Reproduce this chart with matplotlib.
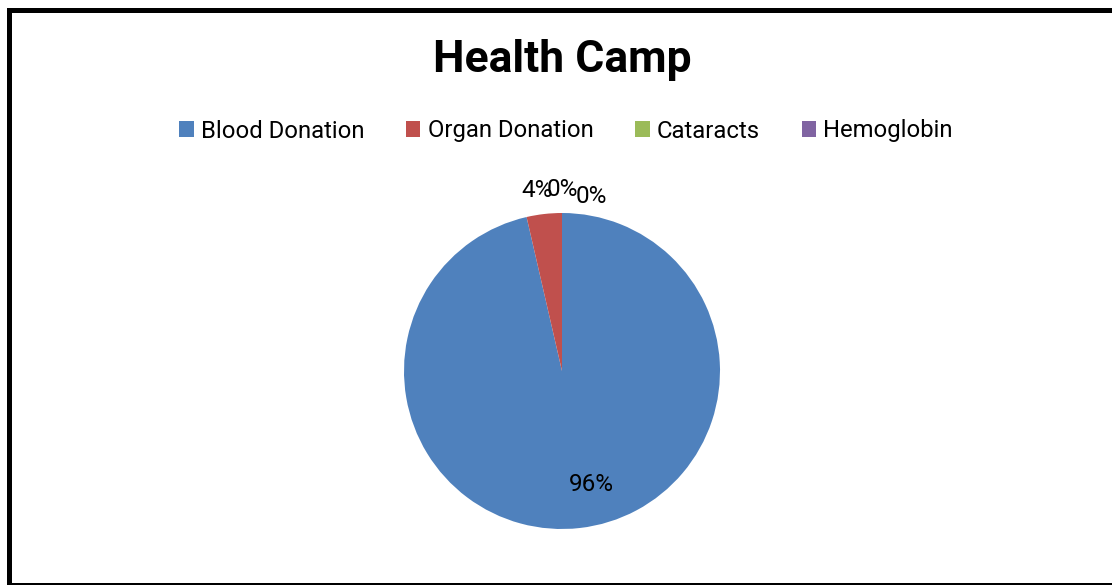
import numpy as np
import matplotlib
matplotlib.use('Agg')
import matplotlib.pyplot as plt
from matplotlib.lines import Line2D
from matplotlib.patches import Patch

categories = ['Blood Donation', 'Organ Donation', 'Cataracts', 'Hemoglobin']
values = [96.4, 3.6, 0, 0]
colors = ['#4F81BD', '#C0504D', '#9BBB59', '#8064A2']

# label placement (radius factor, extra offset in points) - like Excel best fit
label_r = [0.72, 1.15, 1.15, 1.15]
label_off = [(12, 0), (-3, 0), (0, 0), (21, -5)]

plt.rcParams['font.family'] = ['Roboto', 'DejaVu Sans']

fig = plt.figure(figsize=(11.12, 5.85), dpi=100)
ax = fig.add_axes([404 / 1112, 56 / 585, 316 / 1112, 316 / 585])

wedges, _ = ax.pie(values, colors=colors, startangle=90, counterclock=False,
                   radius=1.0, wedgeprops=dict(linewidth=0))
ax.set_xlim(-1, 1)
ax.set_ylim(-1, 1)
ax.set_aspect('equal')

total = sum(values)
for w, v, r, off in zip(wedges, values, label_r, label_off):
    mid = np.deg2rad((w.theta1 + w.theta2) / 2)
    ax.annotate(f'{v / total * 100:.0f}%', (r * np.cos(mid), r * np.sin(mid)),
                xytext=off, textcoords='offset points',
                ha='center', va='center', fontsize=17.5, color='black',
                annotation_clip=False)

fig.text(562 / 1112, 1 - 60 / 585, 'Health Camp', ha='center', va='center',
         fontsize=32, fontweight='bold')

handles = [Patch(facecolor=c, edgecolor='none') for c in colors]
fig.legend(handles, categories, ncol=4, loc='center',
           bbox_to_anchor=(566 / 1112, 1 - 131 / 585), frameon=False,
           fontsize=17.2, handlelength=0.6, handleheight=0.6,
           handletextpad=0.3, columnspacing=1.75)

# outer chart border (right side cut off in the original)
lw = 3.6
fig.add_artist(Line2D([8.5 / 1112, 1], [1 - 10 / 585, 1 - 10 / 585], color='black', lw=lw))
fig.add_artist(Line2D([8.5 / 1112, 8.5 / 1112], [1 - 10 / 585, 0], color='black', lw=lw))
fig.add_artist(Line2D([8.5 / 1112, 1], [1.5 / 585, 1.5 / 585], color='black', lw=lw * 0.6))

fig.savefig('out.png', dpi=100)
